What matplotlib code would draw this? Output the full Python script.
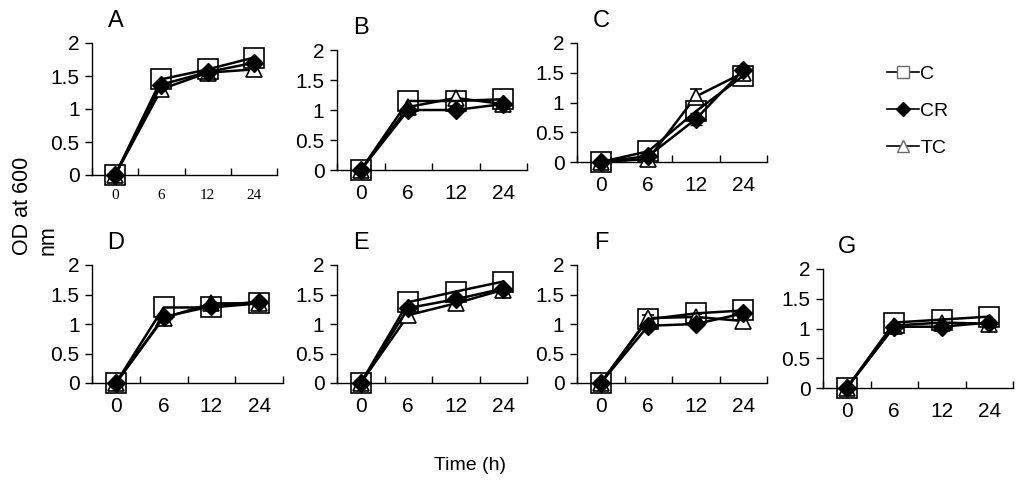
import numpy as np
import matplotlib
matplotlib.use("Agg")
import matplotlib.pyplot as plt
from matplotlib.lines import Line2D

plt.rcParams['font.family'] = ['Liberation Sans', 'DejaVu Sans']

times = ["0", "6", "12", "24"]
panels = ["A", "B", "C", "D", "E", "F", "G"]

# OD600 values
C_vals = {
    "A": [0, 1.45, 1.60, 1.78],
    "B": [0, 1.15, 1.15, 1.18],
    "C": [0, 0.18, 0.85, 1.45],
    "D": [0, 1.28, 1.28, 1.35],
    "E": [0, 1.37, 1.55, 1.72],
    "F": [0, 1.08, 1.18, 1.23],
    "G": [0, 1.10, 1.15, 1.20],
}
CR_vals = {
    "A": [0, 1.37, 1.56, 1.70],
    "B": [0, 1.00, 1.00, 1.10],
    "C": [0, 0.10, 0.72, 1.55],
    "D": [0, 1.12, 1.30, 1.38],
    "E": [0, 1.27, 1.42, 1.60],
    "F": [0, 0.97, 1.00, 1.18],
    "G": [0, 1.03, 1.03, 1.10],
}
TC_vals = {
    "A": [0, 1.30, 1.55, 1.60],
    "B": [0, 1.05, 1.20, 1.10],
    "C": [0, 0.05, 1.10, 1.50],
    "D": [0, 1.10, 1.35, 1.35],
    "E": [0, 1.15, 1.35, 1.58],
    "F": [0, 1.10, 1.12, 1.05],
    "G": [0, 1.05, 1.10, 1.08],
}
# small error bars (only visible ones)
CR_err = {"C": [0, 0.03, 0.10, 0.05]}
TC_err = {"C": [0, 0.03, 0.12, 0.05], "F": [0, 0.05, 0.05, 0.05]}

# axes boxes in pixels: left, top, right, bottom(zero line)
boxes = {
    "A": (92, 43, 277, 175),
    "B": (337, 50, 527, 170),
    "C": (577, 43, 767, 162),
    "D": (92, 265, 283, 383),
    "E": (337, 265, 527, 383),
    "F": (577, 265, 767, 383),
    "G": (823, 269, 1013, 388),
}

W, H = 1024, 488
fig = plt.figure(figsize=(W / 100, H / 100), dpi=100)

for p in panels:
    l, t, r, b = boxes[p]
    ax = fig.add_axes([l / W, 1 - b / H, (r - l) / W, (b - t) / H])
    x = np.arange(len(times))
    ax.errorbar(x, TC_vals[p], yerr=TC_err.get(p), color="black", lw=1.8,
                marker="^", ms=12, mfc="white", mec="black", mew=1.2,
                capsize=4, elinewidth=1.2, clip_on=False, zorder=3)
    ax.errorbar(x, C_vals[p], color="black", lw=1.8,
                marker="s", ms=14, mfc="none", mec="black", mew=1.2,
                clip_on=False, zorder=4)
    ax.errorbar(x, CR_vals[p], yerr=CR_err.get(p), color="black", lw=1.8,
                marker="D", ms=9, mfc="black", mec="black",
                capsize=4, elinewidth=1.2, clip_on=False, zorder=5)
    ax.set_xlim(-0.5, 3.5)
    ax.set_ylim(0, 2)
    ax.set_yticks([0, 0.5, 1, 1.5, 2])
    ax.set_yticklabels(["0", "0.5", "1", "1.5", "2"])
    ax.set_xticks(np.arange(-0.5, 4, 1))
    ax.set_xticklabels([])
    ax.set_xticks(x, minor=True)
    if p == "A":
        ax.set_xticklabels(times, minor=True, family="Liberation Serif", fontsize=11)
    else:
        ax.set_xticklabels(times, minor=True, fontsize=15)
    ax.tick_params(axis="x", which="minor", length=0, pad=10)
    ax.tick_params(axis="x", which="major", length=5, direction="in", width=1)
    ax.tick_params(axis="y", length=5, direction="out", width=1, labelsize=15, pad=4)
    for s in ["top", "right"]:
        ax.spines[s].set_visible(False)
    ax.spines["left"].set_linewidth(1)
    ax.spines["bottom"].set_linewidth(1)
    ax.set_facecolor("none")
    fig.text((l + 24) / W, 1 - (t - 22) / H, p, fontsize=17, ha="center", va="center")

fig.text(35 / W, 1 - 206 / H, "OD at 600\nnm", rotation=90, fontsize=15.5,
         ha="center", va="center", multialignment="left", linespacing=1.3)
fig.text(470 / W, 1 - 465 / H, "Time (h)", fontsize=14, ha="center", va="center")

handles = [
    Line2D([], [], color="black", lw=1.2, marker="s", ms=8, mfc="white", mec="dimgray"),
    Line2D([], [], color="black", lw=1.2, marker="D", ms=7, mfc="black", mec="black"),
    Line2D([], [], color="black", lw=1.2, marker="^", ms=9, mfc="white", mec="dimgray"),
]
fig.legend(handles, ["C", "CR", "TC"], loc="center", bbox_to_anchor=(918 / W, 1 - 111 / H),
           frameon=False, fontsize=14, handlelength=1.6, handletextpad=0.1,
           labelspacing=1.0)

fig.savefig("out.png", dpi=100)
